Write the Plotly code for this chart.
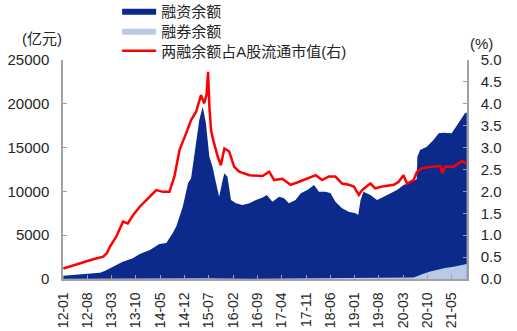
import plotly.graph_objects as go

# 融资余额 (亿元)
fin_dates = [
    "2012-01-04", "2012-07-01", "2012-11-19", "2013-01-01", "2013-02-16", "2013-04-16",
    "2013-06-07", "2013-07-16", "2013-09-04", "2013-11-04", "2014-02-01", "2014-04-25",
    "2014-06-25", "2014-08-19", "2014-09-19", "2014-11-16", "2015-01-01", "2015-01-28",
    "2015-02-28", "2015-04-10", "2015-05-10", "2015-06-07", "2015-07-07", "2015-08-04",
    "2015-09-04", "2015-10-01", "2015-11-01", "2015-11-16", "2015-12-13", "2016-01-13",
    "2016-02-25", "2016-04-22", "2016-06-22", "2016-08-19", "2016-10-16", "2016-11-22",
    "2017-01-10", "2017-03-10", "2017-04-22", "2017-06-04", "2017-08-01", "2017-09-16",
    "2017-11-13", "2018-01-10", "2018-02-22", "2018-04-22", "2018-06-04", "2018-07-16",
    "2018-09-13", "2018-11-10", "2019-01-10", "2019-02-01", "2019-02-22", "2019-03-19",
    "2019-05-19", "2019-07-16", "2019-09-13", "2019-11-10", "2020-01-07", "2020-03-04",
    "2020-04-16", "2020-06-16", "2020-06-28", "2020-07-04", "2020-07-28", "2020-09-25",
    "2020-11-22", "2021-01-07", "2021-02-19", "2021-05-01", "2021-06-28", "2021-08-25",
    "2021-09-10",
]
fin_values = [
    380, 550, 720, 900, 1220, 1650,
    1980, 2150, 2360, 2850, 3310, 4000,
    4110, 5210, 5970, 8250, 10920, 11500,
    14350, 18150, 19670, 17770, 13960, 12820,
    10920, 9400, 11300, 12060, 11680, 9020,
    8640, 8450, 8640, 9020, 9300, 9590,
    8830, 9400, 9210, 8640, 9020, 9780,
    10160, 10730, 9970, 9970, 9780, 8830,
    8070, 7680, 7500, 7310, 9020, 9970,
    9590, 9020, 9400, 9780, 10160, 10730,
    10920, 11300, 11400, 13960, 14730, 15100,
    15870, 16630, 16700, 16630, 17770, 18910,
    19000,
]

# 融券余额 (亿元)
short_dates = [
    "2012-01-04", "2013-06-01", "2015-06-01", "2016-06-01", "2018-01-01", "2019-06-01",
    "2020-04-01", "2020-06-01", "2020-07-01", "2020-08-13", "2020-10-25", "2021-01-22",
    "2021-03-04", "2021-05-16", "2021-07-28", "2021-09-10",
]
short_values = [
    30, 60, 90, 30, 60, 80,
    120, 180, 300, 550, 850, 1150,
    1250, 1400, 1600, 1720,
]

# 两融余额占A股流通市值 (%)
ratio_dates = [
    "2012-01-04", "2012-05-28", "2012-09-22", "2012-12-19", "2013-01-20", "2013-02-16",
    "2013-04-13", "2013-06-10", "2013-07-22", "2013-09-07", "2013-11-04", "2014-01-16",
    "2014-03-28", "2014-05-25", "2014-07-22", "2014-09-04", "2014-10-19", "2014-12-16",
    "2015-01-28", "2015-03-13", "2015-04-25", "2015-05-22", "2015-06-12", "2015-06-26",
    "2015-07-08", "2015-07-22", "2015-08-10", "2015-09-19", "2015-10-16", "2015-11-16",
    "2015-12-28", "2016-02-10", "2016-03-25", "2016-06-22", "2016-10-16", "2016-12-13",
    "2017-01-25", "2017-04-07", "2017-06-19", "2017-09-01", "2017-11-13", "2018-01-25",
    "2018-03-22", "2018-05-19", "2018-07-16", "2018-09-13", "2018-11-10", "2018-12-25",
    "2019-02-07", "2019-03-07", "2019-05-19", "2019-07-01", "2019-09-13", "2019-12-10",
    "2020-01-22", "2020-03-04", "2020-04-04", "2020-06-01", "2020-07-01", "2020-08-13",
    "2020-10-25", "2021-01-22", "2021-02-07", "2021-03-04", "2021-05-16", "2021-07-28",
    "2021-09-10",
]
ratio_values = [
    0.24, 0.36, 0.45, 0.51, 0.59, 0.74,
    0.97, 1.31, 1.27, 1.46, 1.65, 1.84,
    2.03, 1.99, 1.99, 2.34, 2.95, 3.33,
    3.63, 3.82, 4.20, 4.01, 4.20, 4.73,
    3.90, 3.40, 3.17, 2.79, 2.60, 2.98,
    2.91, 2.56, 2.45, 2.37, 2.35, 2.45,
    2.26, 2.29, 2.15, 2.22, 2.30, 2.37,
    2.26, 2.34, 2.34, 2.18, 2.15, 2.11,
    1.92, 2.03, 2.18, 2.07, 2.12, 2.15,
    2.22, 2.37, 2.18, 2.26, 2.45, 2.53,
    2.56, 2.58, 2.42, 2.56, 2.56, 2.69,
    2.64,
]

tick_labels = ["12-01", "12-08", "13-03", "13-10", "14-05", "14-12", "15-07", "16-02",
               "16-09", "17-04", "17-11", "18-06", "19-01", "19-08", "20-03", "20-10", "21-05"]
tick_vals = ["20" + t + "-01" for t in tick_labels]

FONT = "Liberation Sans, Arial, Noto Sans CJK SC, sans-serif"
AXIS_GRAY = "#a0a0a0"
TEXT = "#262626"

fig = go.Figure()
fig.add_trace(go.Scatter(
    x=fin_dates, y=fin_values, name="融资余额", mode="lines",
    line=dict(color="#0c2a8c", width=0), fill="tozeroy", fillcolor="#0c2a8c",
    legend="legend",
))
fig.add_trace(go.Scatter(
    x=short_dates, y=short_values, name="融券余额", mode="lines",
    line=dict(color="#b7cbe8", width=0), fill="tozeroy", fillcolor="#b7cbe8",
    legend="legend2",
))
fig.add_trace(go.Scatter(
    x=ratio_dates, y=ratio_values, name="两融余额占A股流通市值(右)", mode="lines",
    line=dict(color="#ff0000", width=2.5), yaxis="y2",
    legend="legend3",
))


def legend_row(y):
    return dict(
        x=0.134, y=y, xanchor="left", yanchor="middle",
        bgcolor="rgba(0,0,0,0)", font=dict(size=15, color=TEXT),
        itemwidth=34, borderwidth=0,
    )


fig.update_layout(
    width=517, height=331,
    margin=dict(l=63, r=50, t=60, b=52, autoexpand=False),
    paper_bgcolor="white", plot_bgcolor="white",
    font=dict(family=FONT, size=14, color=TEXT),
    showlegend=True,
    legend=legend_row(1.224),
    legend2=legend_row(1.132),
    legend3=legend_row(1.041),
    xaxis=dict(
        type="date", range=["2012-01-01", "2021-09-12"],
        tickmode="array", tickvals=tick_vals, ticktext=tick_labels,
        tickangle=-90, ticks="inside", ticklen=4, tickcolor=AXIS_GRAY,
        showline=True, linecolor=AXIS_GRAY, linewidth=1.5,
        showgrid=False, zeroline=False, ticklabelstandoff=6,
        tickfont=dict(size=14),
    ),
    yaxis=dict(
        range=[0, 25000], dtick=5000, tickformat="d",
        ticks="inside", ticklen=4, tickcolor=AXIS_GRAY,
        showline=True, linecolor=AXIS_GRAY, linewidth=1.5,
        showgrid=False, zeroline=False, ticklabelstandoff=9,
        tickfont=dict(size=15),
    ),
    yaxis2=dict(
        overlaying="y", side="right", range=[0, 5], dtick=0.5, tickformat=".1f",
        ticks="inside", ticklen=4, tickcolor=AXIS_GRAY,
        showline=True, linecolor=AXIS_GRAY, linewidth=1.5,
        showgrid=False, zeroline=False, ticklabelstandoff=9,
        tickfont=dict(size=15),
    ),
    annotations=[
        dict(text="(亿元)", xref="paper", yref="paper", x=-0.052, y=1.096,
             xanchor="center", yanchor="middle", showarrow=False, font=dict(size=15)),
        dict(text="(%)", xref="paper", yref="paper", x=1.037, y=1.075,
             xanchor="center", yanchor="middle", showarrow=False, font=dict(size=15)),
    ],
)

fig.write_html("out.html")
